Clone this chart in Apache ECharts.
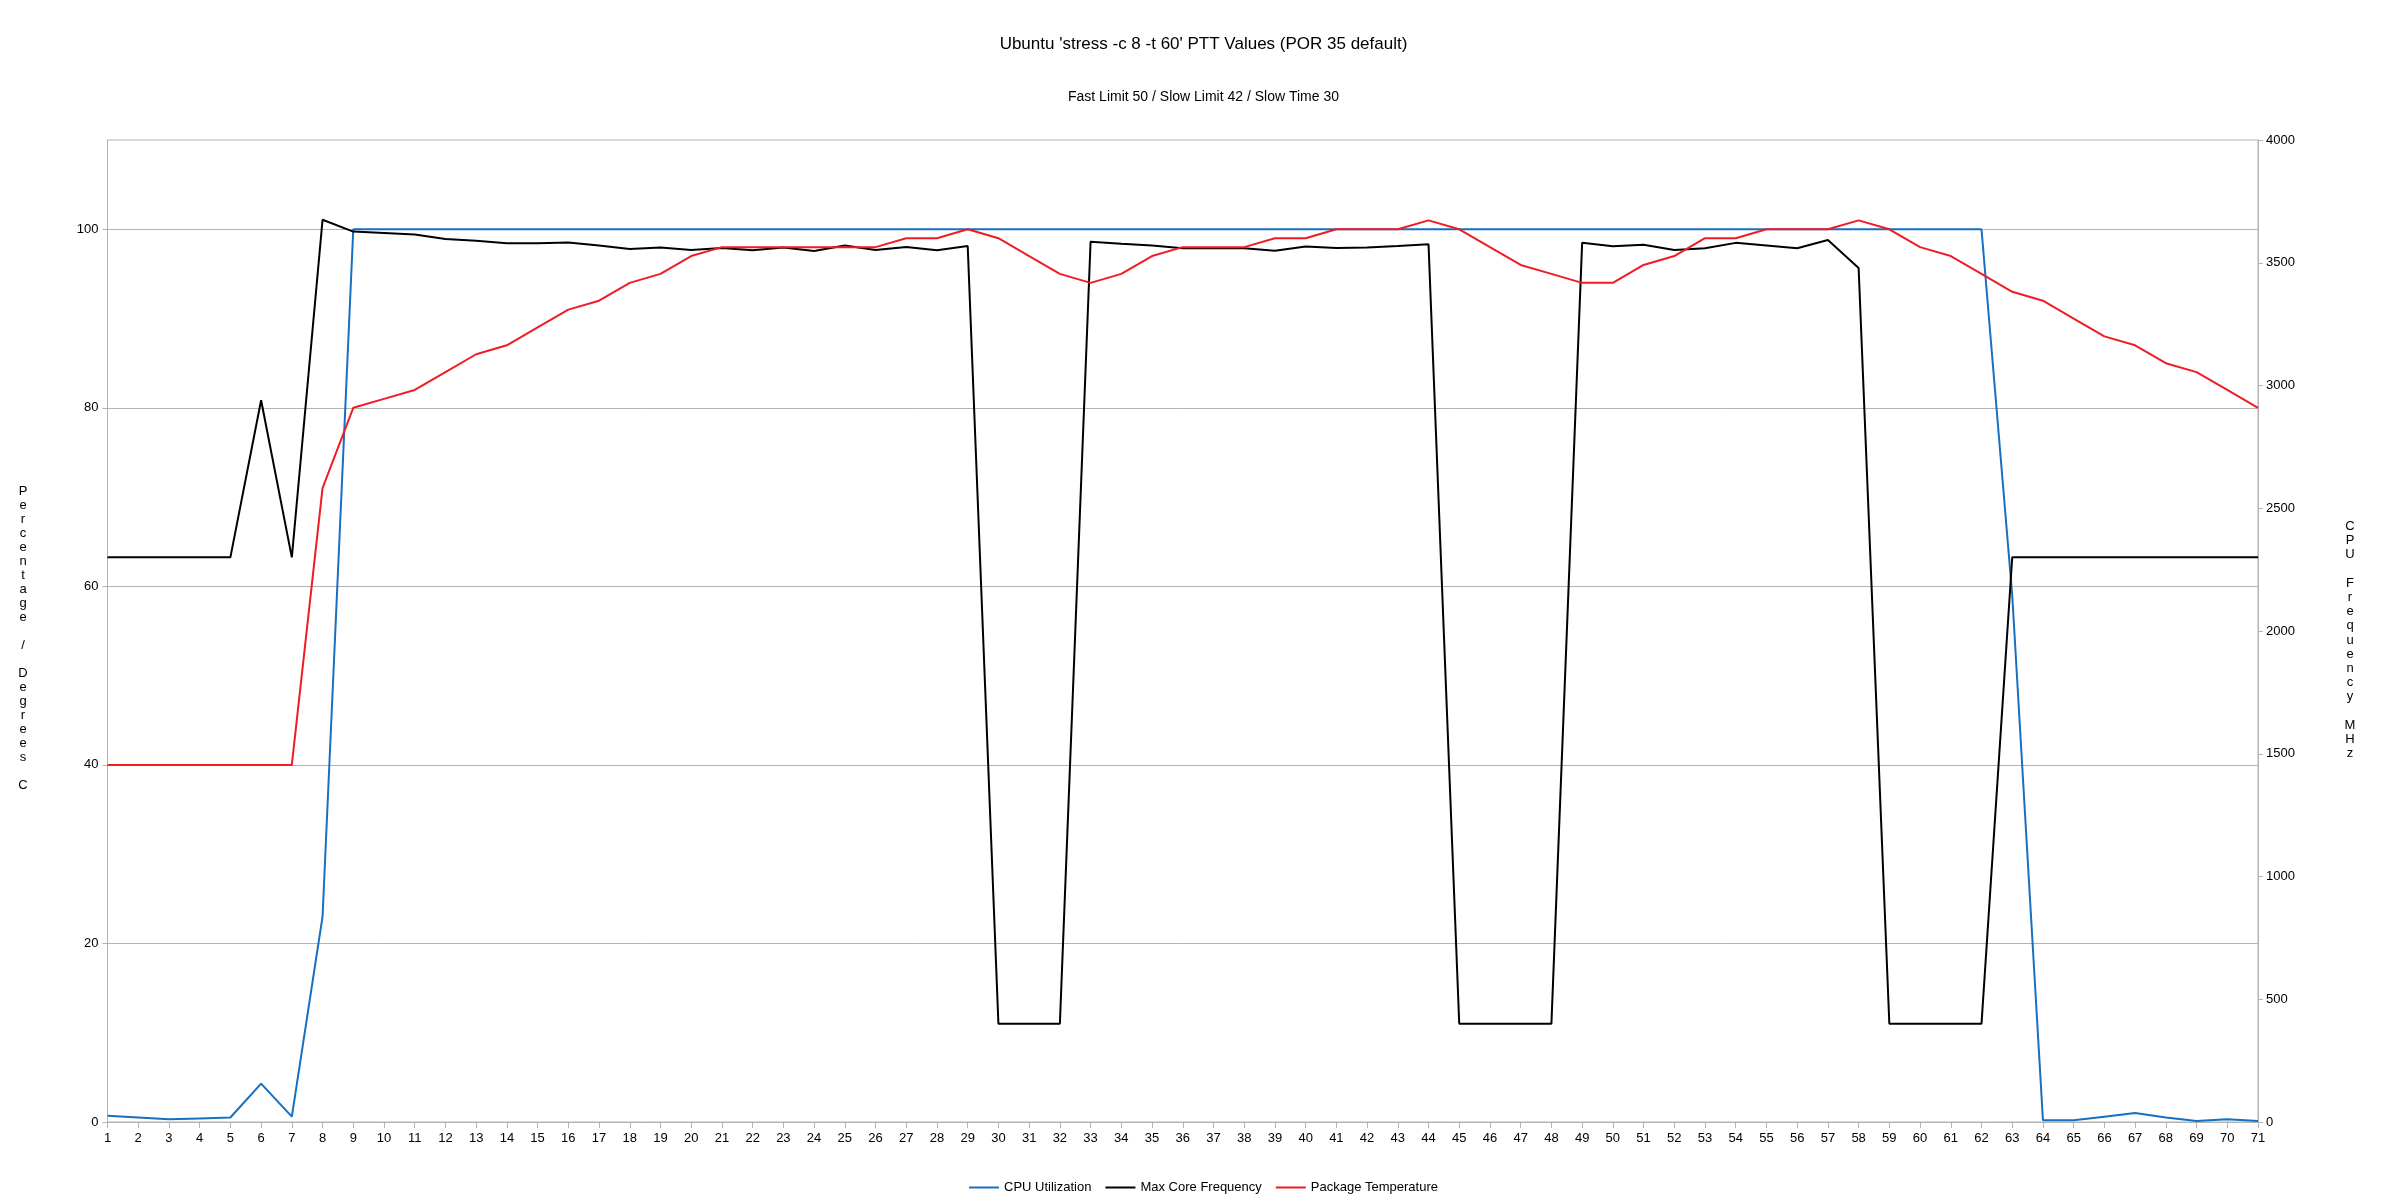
<!DOCTYPE html>
<html>
<head>
<meta charset="utf-8">
<script src="https://cdn.jsdelivr.net/npm/echarts@6/dist/echarts.min.js"></script>
<style>
html,body{margin:0;padding:0;background:#fff;}
#chart{width:2407px;height:1201px;}
</style>
</head>
<body>
<div id="chart"></div>
<script>
const categories = ['1','2','3','4','5','6','7','8','9','10','11','12','13','14','15','16','17','18','19','20',
  '21','22','23','24','25','26','27','28','29','30','31','32','33','34','35','36','37','38','39','40',
  '41','42','43','44','45','46','47','48','49','50','51','52','53','54','55','56','57','58','59','60',
  '61','62','63','64','65','66','67','68','69','70','71'];

// points 1-8, then 9-62 at 100 (54 values), then 63-71
const cpuUtilization = [0.7,0.5,0.3,0.4,0.5,4.3,0.6,23,
  100,100,100,100,100,100,100,100,100,100,
  100,100,100,100,100,100,100,100,100,100,
  100,100,100,100,100,100,100,100,100,100,
  100,100,100,100,100,100,100,100,100,100,
  100,100,100,100,100,100,100,100,100,100,
  100,100,100,100,
  59,0.2,0.2,0.6,1.0,0.5,0.1,0.3,0.1];

const maxCoreFrequency = [2300,2300,2300,2300,2300,2940,2300,
  3675,3627,3621,3615,3597,3590,3579,3579,3582,3570,3556,3562,3552,3560,3551,3562,3548,3570,3552,3564,3551,3568,
  400,400,400,
  3586,3577,3570,3559,3559,3559,3549,3566,3560,3562,3568,3575,
  400,400,400,400,
  3581,3567,3573,3552,3559,3581,3570,3559,3593,3479,
  400,400,400,400,
  2300,2300,2300,2300,2300,2300,2300,2300,2300];

const packageTemperature = [40,40,40,40,40,40,40,
  71,80,81,82,84,86,87,89,91,92,94,95,97,98,98,98,98,98,98,99,99,100,
  99,97,95,94,95,97,98,98,98,99,99,100,100,100,101,100,98,96,95,94,94,
  96,97,99,99,100,100,100,101,100,98,97,95,93,92,90,88,87,85,84,82,80];

const leftTicks = [0,20,40,60,80,100];
const rightTicks = [0,500,1000,1500,2000,2500,3000,3500,4000];
const leftAxisTitle = 'Percentage / Degrees C';
const rightAxisTitle = 'CPU Frequency MHz';

const FONT = '"Liberation Sans", Arial, sans-serif';
const GRID_COLOR = '#b3b3b3';
const stack = s => s.split('').join('\n');

const chart = echarts.init(document.getElementById('chart'), null, {renderer: 'canvas'});
const option = {
  backgroundColor: '#ffffff',
  animation: false,
  title: [
    {text: "Ubuntu 'stress -c 8 -t 60' PTT Values (POR 35 default)", left: 'center', top: 31,
     textStyle: {fontFamily: FONT, fontSize: 17, fontWeight: 'normal', color: '#000'}},
    {text: 'Fast Limit 50 / Slow Limit 42 / Slow Time 30', left: 'center', top: 85,
     textStyle: {fontFamily: FONT, fontSize: 14, fontWeight: 'normal', color: '#000'}}
  ],
  legend: {
    bottom: 2, left: 'center', icon: 'rect', itemWidth: 30, itemHeight: 2, itemGap: 14,
    textStyle: {fontFamily: FONT, fontSize: 13, color: '#000'},
    data: ['CPU Utilization', 'Max Core Frequency', 'Package Temperature']
  },
  graphic: [
    {type: 'text', left: 16, top: 'middle', silent: true,
     style: {text: stack(leftAxisTitle), x: 0, y: 0, fill: '#000', font: '13px ' + FONT,
             lineHeight: 14, textAlign: 'center', align: 'center'},
     position: [23, 648], left: null, top: null},
    {type: 'text', silent: true,
     style: {text: stack(rightAxisTitle), fill: '#000', font: '13px ' + FONT,
             lineHeight: 14.2, align: 'center', verticalAlign: 'middle'},
     x: 2350, y: 640}
  ],
  grid: {left: 107.5, right: 149, top: 140, bottom: 79, containLabel: false,
         show: true, borderColor: GRID_COLOR, borderWidth: 1, backgroundColor: 'transparent'},
  xAxis: {
    type: 'category', data: categories, boundaryGap: false,
    axisLine: {lineStyle: {color: GRID_COLOR, width: 1}},
    axisTick: {show: true, interval: 0, length: 6, lineStyle: {color: GRID_COLOR}},
    axisLabel: {interval: 0, margin: 10, fontFamily: FONT, fontSize: 13, color: '#000'},
    splitLine: {show: false}
  },
  yAxis: [
    {
      type: 'value', min: 0, max: 110, interval: 20, position: 'left',
      axisLine: {show: true, lineStyle: {color: GRID_COLOR}},
      axisTick: {show: true, length: 5, customValues: leftTicks, lineStyle: {color: GRID_COLOR}},
      axisLabel: {fontFamily: FONT, fontSize: 13, color: '#000', margin: 9, customValues: leftTicks,
                  formatter: v => String(v)},
      splitLine: {show: true, lineStyle: {color: GRID_COLOR, width: 1}}
    },
    {
      type: 'value', min: 0, max: 4000, interval: 500, position: 'right',
      axisLine: {show: true, lineStyle: {color: GRID_COLOR}},
      axisTick: {show: true, length: 5, lineStyle: {color: GRID_COLOR}},
      axisLabel: {fontFamily: FONT, fontSize: 13, color: '#000', margin: 8,
                  formatter: v => String(v)},
      splitLine: {show: false}
    }
  ],
  series: [
    {name: 'CPU Utilization', type: 'line', yAxisIndex: 0, data: cpuUtilization,
     symbol: 'none', color: '#1570c0', lineStyle: {width: 2, color: '#1570c0'}, z: 3},
    {name: 'Max Core Frequency', type: 'line', yAxisIndex: 1, data: maxCoreFrequency,
     symbol: 'none', color: '#000000', lineStyle: {width: 2, color: '#000000'}, z: 4},
    {name: 'Package Temperature', type: 'line', yAxisIndex: 0, data: packageTemperature,
     symbol: 'none', color: '#f01c24', lineStyle: {width: 2, color: '#f01c24'}, z: 5}
  ]
};
// place left title precisely
option.graphic[0] = {type: 'text', silent: true,
  style: {text: stack(leftAxisTitle), fill: '#000', font: '13px ' + FONT,
          lineHeight: 14, align: 'center', verticalAlign: 'middle'},
  x: 23, y: 638};
chart.setOption(option);
</script>
</body>
</html>
